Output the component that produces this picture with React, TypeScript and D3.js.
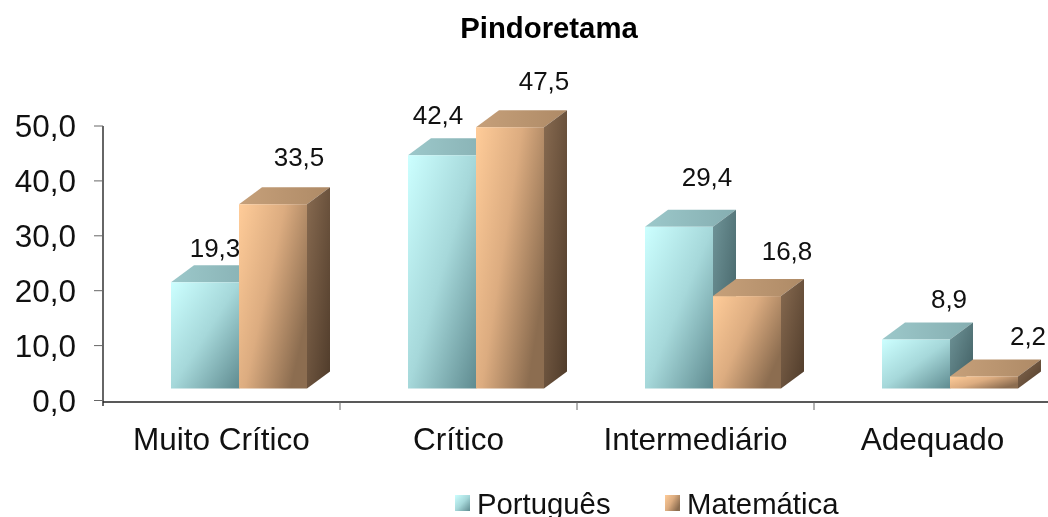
import React from "react";
import * as d3 from "d3";

const categories = ["Muito Crítico", "Crítico", "Intermediário", "Adequado"];
const portugues = [19.3, 42.4, 29.4, 8.9];
const matematica = [33.5, 47.5, 16.8, 2.2];
const yTicks = [0, 10, 20, 30, 40, 50];
const seriesNames = ["Português", "Matemática"];
const title = "Pindoretama";

const W = 1048, H = 517;
const FONT = "'Liberation Sans', Arial, sans-serif";
const AX_X0 = 103, AX_X1 = 1051, AX_Y = 402;
const DX = 23, DY = 17;
const fmt = (v: number) => v.toFixed(1).replace(".", ",");

const x = d3.scaleBand<string>().domain(categories).range([AX_X0, AX_X1]);
const axisY = d3.scaleLinear().domain([0, 50]).range([400.5, 126]);
const barY = d3.scaleLinear().domain([0, 50]).range([388.5, 113.5]);
const barW = 68;
const labelOffsets: [number, number][][] = [
  [[44, -25], [60, -38]],
  [[30, -31], [68, -37]],
  [[62, -41], [74, -36]],
  [[67, -32], [78, -31]],
];

function Bar({ x0, v, id, label, lx, ly }: { x0: number; v: number; id: string; label: string; lx: number; ly: number }) {
  const top = barY(v), base = barY(0), x1 = x0 + barW;
  return (
    <g>
      <polygon points={`${x0},${top} ${x0 + DX},${top - DY} ${x1 + DX},${top - DY} ${x1},${top}`} fill={`url(#${id}Top)`} />
      <polygon points={`${x1},${top} ${x1 + DX},${top - DY} ${x1 + DX},${base - DY} ${x1},${base}`} fill={`url(#${id}Side)`} />
      <rect x={x0} y={top} width={barW} height={base - top} fill={`url(#${id}Front)`} />
      <text x={lx} y={ly} textAnchor="middle" fontSize={26} fill="#111" style={{ fontFamily: FONT }}>{label}</text>
    </g>
  );
}

export default function App() {
  const bars = categories.flatMap((c, i) => {
    const start = (x(c) as number) + 68;
    return [
      { key: c + "p", id: "p", x0: start, v: portugues[i], off: labelOffsets[i][0] },
      { key: c + "m", id: "m", x0: start + barW, v: matematica[i], off: labelOffsets[i][1] },
    ];
  });
  return (
    <svg width={W} height={H} style={{ position: "absolute", left: 0, top: 0, background: "#fff", filter: "blur(0.4px)" }}>
      <defs>
        <linearGradient id="pFront" x1="0" y1="0" x2="1" y2="1">
          <stop offset="0" stopColor="#ccffff" />
          <stop offset="0.5" stopColor="#a6d8da" />
          <stop offset="1" stopColor="#5f8b90" />
        </linearGradient>
        <linearGradient id="mFront" x1="0" y1="0" x2="1" y2="0.6">
          <stop offset="0" stopColor="#ffcc99" />
          <stop offset="0.5" stopColor="#dcac80" />
          <stop offset="1" stopColor="#8c6d50" />
        </linearGradient>
        <linearGradient id="pTop" x1="0" y1="0" x2="1" y2="0">
          <stop offset="0" stopColor="#9cc8ca" />
          <stop offset="1" stopColor="#85aeb1" />
        </linearGradient>
        <linearGradient id="mTop" x1="0" y1="0" x2="1" y2="0">
          <stop offset="0" stopColor="#c6a07a" />
          <stop offset="1" stopColor="#ae8a66" />
        </linearGradient>
        <linearGradient id="pSide" x1="0" y1="0" x2="1" y2="1">
          <stop offset="0" stopColor="#6f9498" />
          <stop offset="1" stopColor="#3e5c60" />
        </linearGradient>
        <linearGradient id="mSide" x1="0" y1="0" x2="1" y2="1">
          <stop offset="0" stopColor="#876a50" />
          <stop offset="1" stopColor="#4f3b2a" />
        </linearGradient>
      </defs>

      <text x={549} y={38} textAnchor="middle" fontSize={29.3} fontWeight="bold" fill="#000" style={{ fontFamily: FONT }}>{title}</text>

      {/* y axis */}
      <line x1={AX_X0} x2={AX_X0} y1={axisY(50)} y2={AX_Y + 4} stroke="#333" strokeWidth={1.5} />
      {yTicks.map((t) => (
        <g key={t}>
          <line x1={94} x2={AX_X0} y1={axisY(t)} y2={axisY(t)} stroke="#666" strokeWidth={1} />
          <text x={76} y={axisY(t) + 11} textAnchor="end" fontSize={31.5} fill="#111" style={{ fontFamily: FONT }}>{fmt(t)}</text>
        </g>
      ))}

      {/* x axis */}
      <line x1={AX_X0} x2={W} y1={AX_Y} y2={AX_Y} stroke="#222" strokeWidth={1.5} />
      {categories.map((c) => (
        <g key={c}>
          <line x1={(x(c) as number) + x.bandwidth()} x2={(x(c) as number) + x.bandwidth()} y1={AX_Y} y2={AX_Y + 8} stroke="#666" />
          <text x={(x(c) as number) + x.bandwidth() / 2} y={450} textAnchor="middle" fontSize={31.5} fill="#111" style={{ fontFamily: FONT }}>{c}</text>
        </g>
      ))}

      {bars.map((b) => (
        <Bar key={b.key} x0={b.x0} v={b.v} id={b.id} label={fmt(b.v)} lx={b.x0 + b.off[0]} ly={barY(b.v) + b.off[1]} />
      ))}

      {/* legend */}
      <rect x={455} y={495} width={15} height={16} fill="url(#pFront)" />
      <text x={477} y={514} fontSize={29.3} fill="#111" style={{ fontFamily: FONT }}>{seriesNames[0]}</text>
      <rect x={665} y={495} width={15} height={16} fill="url(#mFront)" />
      <text x={687} y={514} fontSize={29.3} fill="#111" style={{ fontFamily: FONT }}>{seriesNames[1]}</text>
    </svg>
  );
}
